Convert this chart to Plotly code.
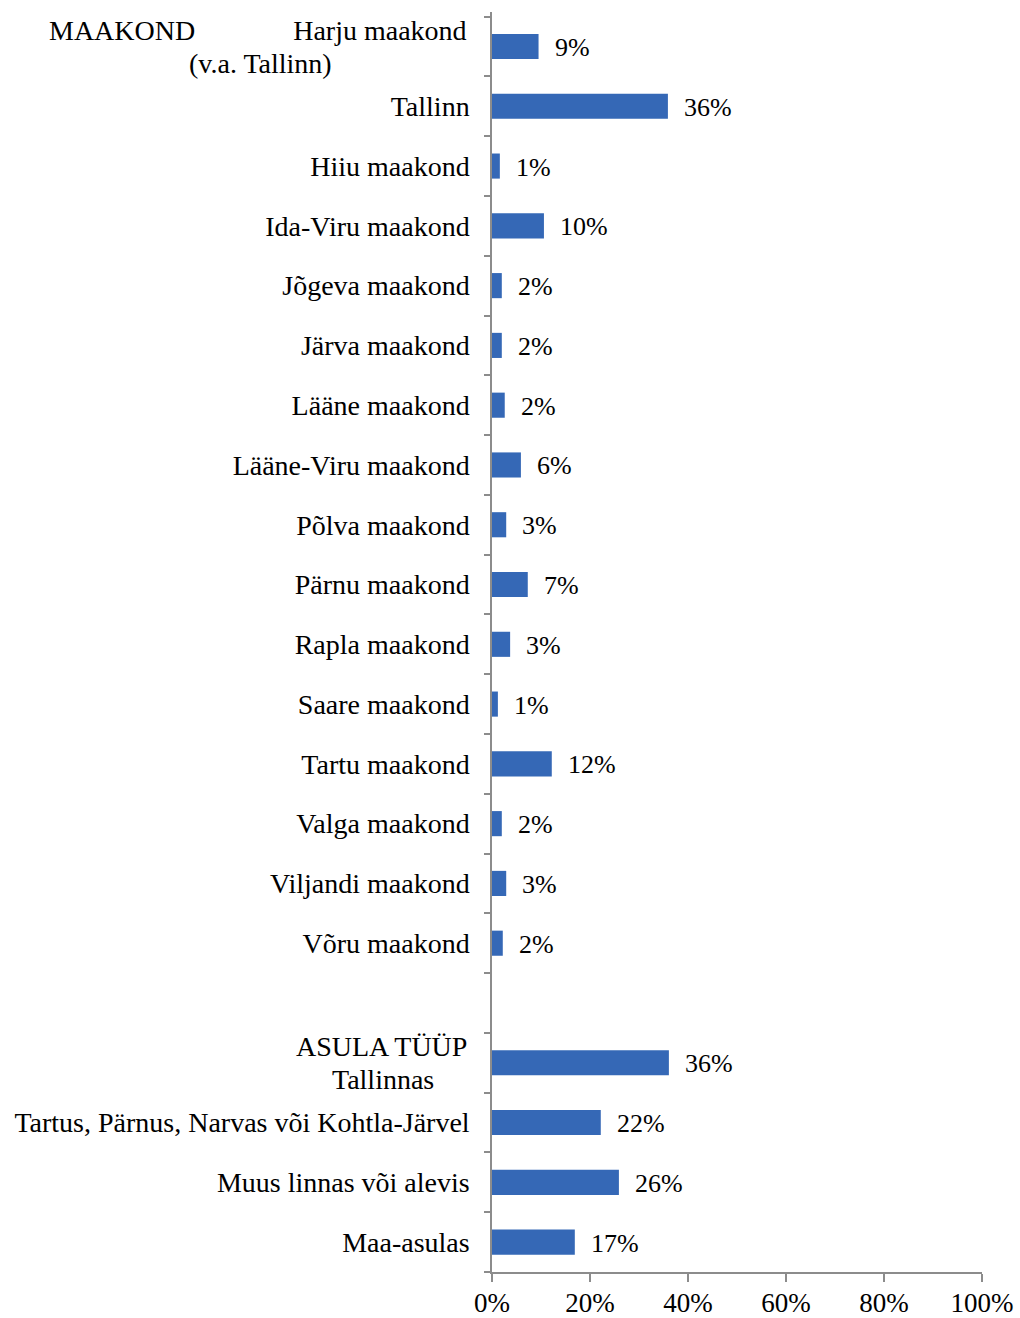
import plotly.graph_objects as go

categories = ["Harju", "Tallinn", "Hiiu maakond", "Ida-Viru maakond", "Jõgeva maakond",
              "Järva maakond", "Lääne maakond", "Lääne-Viru maakond", "Põlva maakond",
              "Pärnu maakond", "Rapla maakond", "Saare maakond", "Tartu maakond",
              "Valga maakond", "Viljandi maakond", "Võru maakond", "gap",
              "Tallinnas", "Tartus, Pärnus, Narvas või Kohtla-Järvel",
              "Muus linnas või alevis", "Maa-asulas"]
tick_labels = ["", "Tallinn", "Hiiu maakond", "Ida-Viru maakond", "Jõgeva maakond",
               "Järva maakond", "Lääne maakond", "Lääne-Viru maakond", "Põlva maakond",
               "Pärnu maakond", "Rapla maakond", "Saare maakond", "Tartu maakond",
               "Valga maakond", "Viljandi maakond", "Võru maakond", "",
               "", "Tartus, Pärnus, Narvas või Kohtla-Järvel",
               "Muus linnas või alevis", "Maa-asulas"]
values = [9.5, 35.9, 1.6, 10.6, 2.0, 2.0, 2.6, 5.9, 2.9, 7.3, 3.7, 1.2, 12.2,
          2.0, 2.9, 2.2, None, 36.1, 22.2, 25.9, 16.9]
value_labels = ["9%", "36%", "1%", "10%", "2%", "2%", "2%", "6%", "3%", "7%", "3%",
                "1%", "12%", "2%", "3%", "2%", "", "36%", "22%", "26%", "17%"]
# two-line labels: (category, first line, second line, centre of second line in px)
special_labels = [("Harju", "MAAKOND" + "\u00a0" * 14 + "Harju maakond", "(v.a. Tallinn)", 260),
                  ("Tallinnas", "ASULA TÜÜP", "Tallinnas", 383)]
x_ticks = [0, 20, 40, 60, 80, 100]
x_tick_labels = ["0%", "20%", "40%", "60%", "80%", "100%"]

FONT = "Liberation Serif, Times New Roman, serif"
AXIS = "#8c8c8c"
CAT_SIZE = 28
L_MARGIN, PLOT_W = 492, 490

fig = go.Figure()
fig.add_trace(go.Bar(
    y=categories, x=values, orientation="h",
    marker=dict(color="#3568b6", line=dict(width=0)),
    width=0.42, hoverinfo="skip",
))

annotations = []
for c, v, t in zip(categories, values, value_labels):
    if v is None:
        continue
    annotations.append(dict(x=v, y=c, xref="x", yref="y", text=t, showarrow=False,
                            xanchor="left", yanchor="middle", xshift=14, yshift=-1,
                            font=dict(family=FONT, size=26, color="black")))
for c, l1, l2, cx in special_labels:
    annotations.append(dict(x=0, y=c, xref="paper", yref="y", text=l1, showarrow=False,
                            xanchor="right", yanchor="middle", xshift=-23, yshift=16,
                            font=dict(family=FONT, size=CAT_SIZE, color="black")))
    annotations.append(dict(x=(cx - L_MARGIN) / PLOT_W, y=c, xref="paper", yref="y",
                            text=l2, showarrow=False,
                            xanchor="center", yanchor="middle", yshift=-17,
                            font=dict(family=FONT, size=CAT_SIZE, color="black")))

fig.update_layout(
    width=1020, height=1318,
    margin=dict(l=L_MARGIN, r=38, t=12, b=46, autoexpand=False),
    paper_bgcolor="white", plot_bgcolor="white",
    showlegend=False,
    annotations=annotations,
    font=dict(family=FONT, size=26, color="black"),
    xaxis=dict(range=[0, 100], tickvals=x_ticks, ticktext=x_tick_labels,
               showgrid=False, zeroline=False, showline=True, linecolor=AXIS,
               linewidth=1.5, ticks="outside", ticklen=8, tickcolor=AXIS,
               tickwidth=1.5, tickfont=dict(family=FONT, size=27, color="black"),
               ticklabelstandoff=-2, automargin=False, fixedrange=True),
    yaxis=dict(type="category", categoryorder="array", categoryarray=categories,
               autorange="reversed", tickvals=categories, ticktext=tick_labels,
               tickson="boundaries", ticks="outside", ticklen=6, tickcolor=AXIS,
               tickwidth=1.5, showline=True, linecolor=AXIS, linewidth=1.5,
               showgrid=False, zeroline=False, ticklabelstandoff=15,
               tickfont=dict(family=FONT, size=CAT_SIZE, color="black"),
               automargin=False, fixedrange=True),
)

fig.write_html("out.html")
